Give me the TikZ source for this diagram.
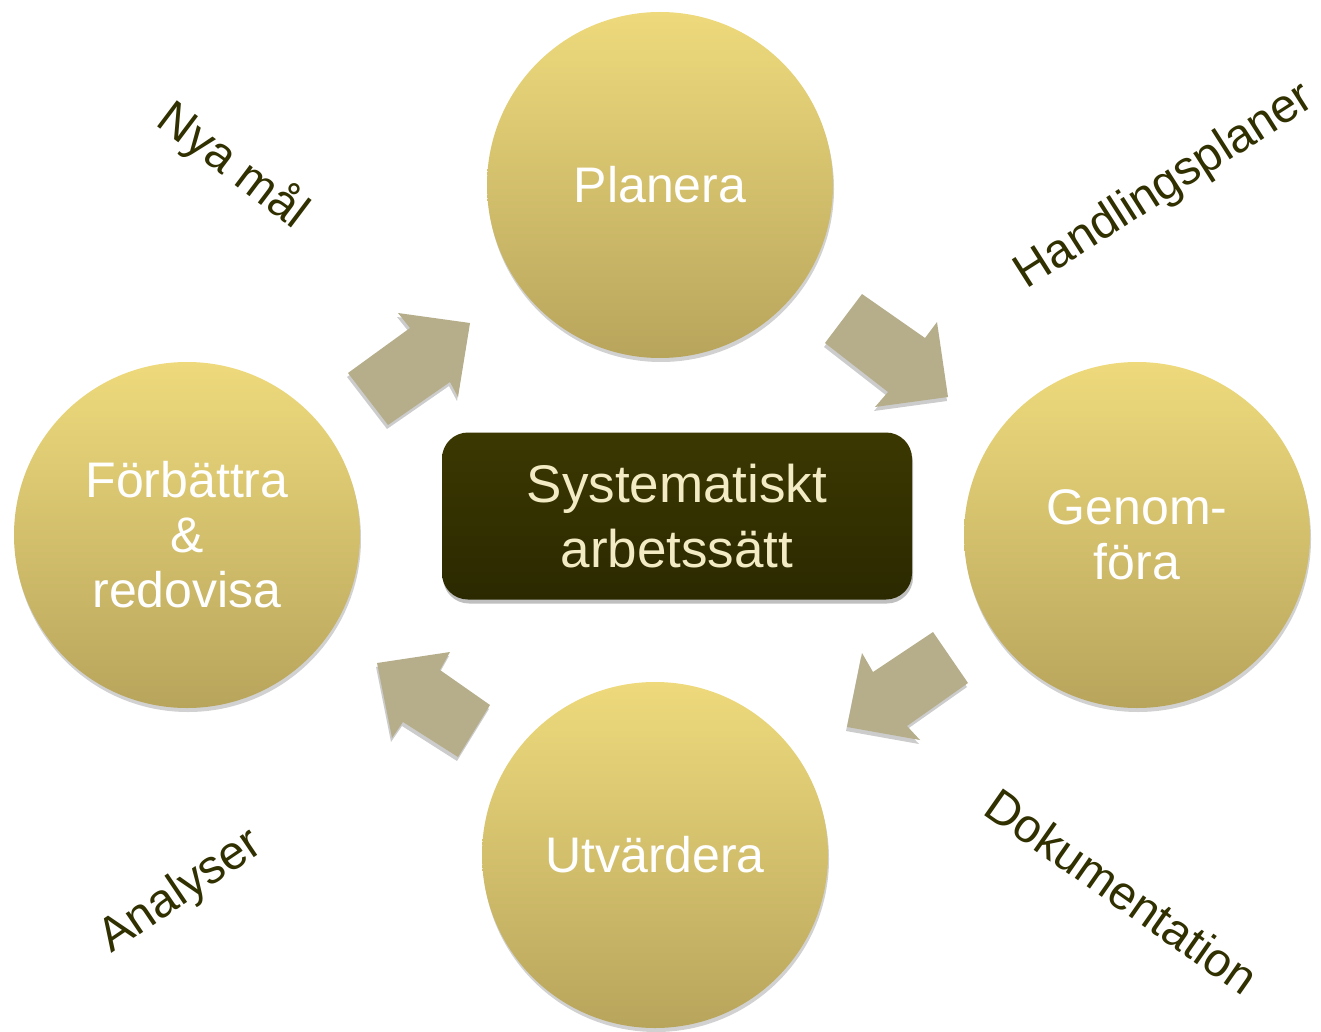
\documentclass[tikz,border=0pt]{standalone}
\usepackage{fontspec}
\setmainfont{Liberation Sans}
\usetikzlibrary{shadows}
\definecolor{circtop}{RGB}{238,218,124}
\definecolor{circbot}{RGB}{184,165,92}
\definecolor{arrowfill}{RGB}{182,174,139}
\definecolor{boxtop}{RGB}{60,56,2}
\definecolor{boxbot}{RGB}{43,41,0}
\definecolor{boxtext}{RGB}{242,235,196}
\definecolor{labeltext}{RGB}{48,48,0}
\tikzset{
  stage/.style={circle, minimum size=346pt, inner sep=0pt, top color=circtop, bottom color=circbot,
    draw=none, text=white, align=center, font=\fontsize{50}{55}\selectfont,
    drop shadow={shadow xshift=1pt, shadow yshift=-4pt, opacity=0.18, fill=black}},
  centerbox/.style={rectangle, rounded corners=26pt, minimum width=470pt, minimum height=167pt,
    top color=boxtop, bottom color=boxbot, text=boxtext, align=center,
    font=\fontsize{53}{65}\selectfont,
    drop shadow={shadow xshift=1pt, shadow yshift=-4pt, opacity=0.25, fill=black}},
  blockarrow/.style={fill=arrowfill, draw=none,
    drop shadow={shadow xshift=-1pt, shadow yshift=-4pt, opacity=0.2, fill=black}},
  sidelabel/.style={text=labeltext, font=\fontsize{47.5}{50}\selectfont, inner sep=0pt}
}
\begin{document}
\begin{tikzpicture}[x=1pt, y=-1pt]
\useasboundingbox (0,0) rectangle (1321,1032);
\fill[white] (0,0) rectangle (1321,1032);

% block arrows
\path[blockarrow] (348,373) -- (410,328) -- (398,313) -- (470,323) -- (458,397) -- (450,382) -- (388,425) -- cycle;
\path[blockarrow] (862,294) -- (925,338) -- (937,322) -- (948,397) -- (875,407) -- (888,392) -- (825,343) -- cycle;
\path[blockarrow] (933,632) -- (873,672) -- (862,653) -- (847,727) -- (920,740) -- (907,726) -- (968,683) -- cycle;
\path[blockarrow] (377,663) -- (450,652) -- (440,670) -- (490,705) -- (458,757) -- (403,722) -- (392,738) -- cycle;

% stages
\node[stage] (planera) at (660,185) {Planera};
\node[stage] (genomfora) at (1137,535) {Genom-\\föra};
\node[stage] (utvardera) at (655,855) {Utvärdera};
\node[stage] (forbattra) at (187,535) {Förbättra\\\&\\redovisa};

% center
\node[centerbox] (center) at (677,516) {Systematiskt\\arbetssätt};

% side labels
\node[sidelabel, rotate=-37] (nyamal) at (233,166) {Nya mål};
\node[sidelabel, rotate=32.5] (handling) at (1165,187) {Handlingsplaner};
\node[sidelabel, rotate=-35] (dokument) at (1122,891) {Dokumentation};
\node[sidelabel, rotate=34] (analyser) at (181,892) {Analyser};
\end{tikzpicture}
\end{document}
